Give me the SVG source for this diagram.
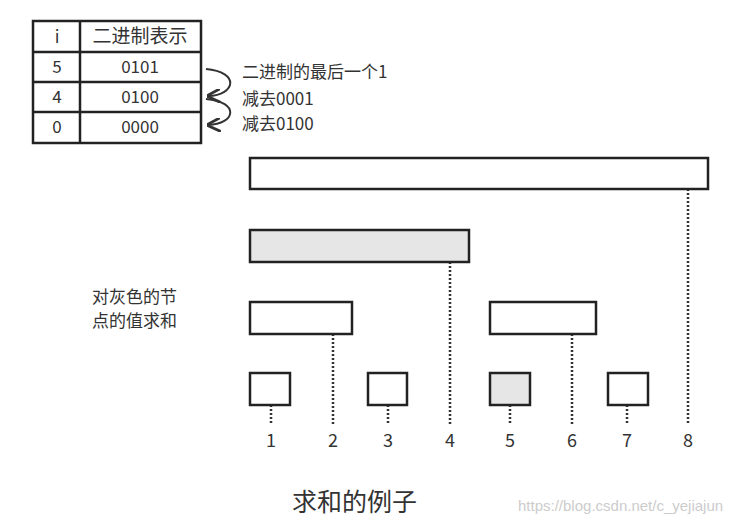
<svg xmlns="http://www.w3.org/2000/svg" width="743" height="528" viewBox="0 0 743 528">
<style>
text{font-family:"Noto Sans CJK SC","Noto Sans",sans-serif;fill:#333}
.b{fill:#fff;stroke:#222;stroke-width:2.5}
.g{fill:#e6e6e6;stroke:#222;stroke-width:2.5}
.d{stroke:#333;stroke-width:2.5;stroke-dasharray:2 2;fill:none}
.t{font-size:17px;text-anchor:middle}
.n{font-size:18px;text-anchor:middle}
</style>
<defs><marker id="ah" viewBox="0 0 10 10" refX="9" refY="5" markerWidth="7" markerHeight="7" orient="auto"><path d="M0,0L10,5L0,10" fill="none" stroke="#333" stroke-width="2"/></marker></defs>
<rect width="743" height="528" fill="#fff"/>
<g id="table">
<rect x="33" y="21" width="168" height="122" fill="#fff" stroke="#222" stroke-width="2.5"/>
<path d="M80,21V143M33,52H201M33,82H201M33,112H201" stroke="#222" stroke-width="2.5"/>
<text class="t" x="57" y="43">i</text><text class="t" x="140" y="43" style="font-size:19px">二进制表示</text>
<text class="t" x="57" y="73">5</text><text class="t" x="140" y="73">0101</text>
<text class="t" x="57" y="103">4</text><text class="t" x="140" y="103">0100</text>
<text class="t" x="57" y="133">0</text><text class="t" x="140" y="133">0000</text>
</g>
<g id="notes" font-size="17">
<text x="242" y="78">二进制的最后一个1</text>
<text x="242" y="105">减去0001</text>
<text x="242" y="130">减去0100</text>
<text x="92" y="303">对灰色的节</text>
<text x="92" y="327">点的值求和</text>
</g>
<g id="connectors">
<path d="M206,69C240,72 236,95 208,96" fill="none" stroke="#333" stroke-width="2" marker-end="url(#ah)"/>
<path d="M206,99C240,102 236,124 208,125" fill="none" stroke="#333" stroke-width="2" marker-end="url(#ah)"/>
<path class="d" d="M271,405V425M333,334V425M388,405V425M450,262V425M510,405V425M572,334V425M627,405V425M688,189V425"/>
</g>
<g id="n8"><rect class="b" x="250" y="158" width="458" height="31"/></g>
<g id="n4"><rect class="g" x="250" y="230" width="219" height="32"/></g>
<g id="n2"><rect class="b" x="250" y="302" width="102" height="32"/></g>
<g id="n6"><rect class="b" x="490" y="302" width="106" height="32"/></g>
<g id="n1"><rect class="b" x="250" y="373" width="40" height="32"/></g>
<g id="n3"><rect class="b" x="368" y="373" width="39" height="32"/></g>
<g id="n5"><rect class="g" x="490" y="373" width="40" height="32"/></g>
<g id="n7"><rect class="b" x="608" y="373" width="40" height="32"/></g>
<g id="labels">
<text class="n" x="271" y="447">1</text><text class="n" x="333" y="447">2</text><text class="n" x="388" y="447">3</text><text class="n" x="450" y="447">4</text>
<text class="n" x="510" y="447">5</text><text class="n" x="572" y="447">6</text><text class="n" x="627" y="447">7</text><text class="n" x="688" y="447">8</text>
<text x="292" y="511" font-size="25">求和的例子</text>
<text x="518" y="511" font-size="15" style="fill:#ccc;font-family:'Liberation Sans',sans-serif">https://blog.csdn.net/c_yejiajun</text>
</g>
</svg>
